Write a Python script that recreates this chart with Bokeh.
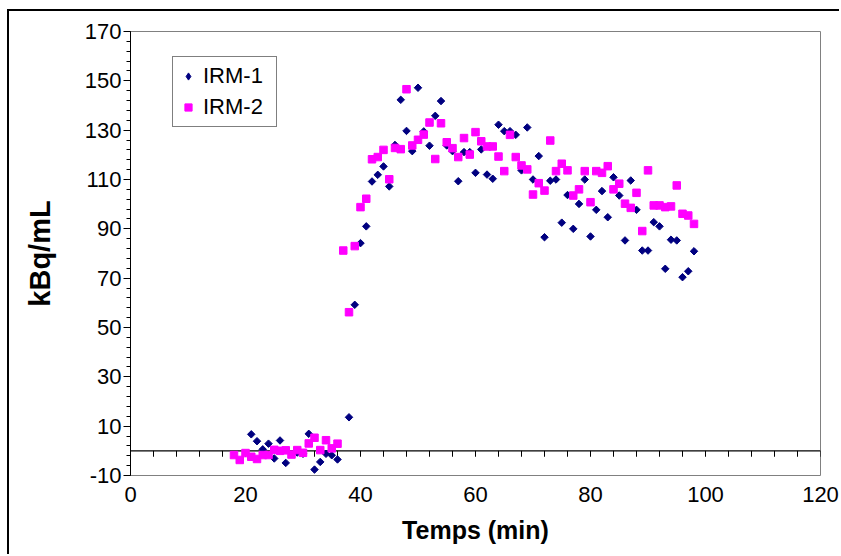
import numpy as np
from bokeh.plotting import figure
from bokeh.models import Range1d, FixedTicker, Span, Legend, LegendItem, PrintfTickFormatter
from bokeh.embed import file_html
from bokeh.resources import INLINE

# ---- data ----
irm1_t = [21, 22, 23, 24, 25, 26, 27, 29, 30, 31, 32, 33, 34, 35, 36,
          38, 39, 40, 41, 42, 43, 44, 45, 46, 47, 48, 49, 50, 51, 52, 53, 54,
          55, 56, 57, 58, 59, 60, 61, 62, 63, 64, 65, 66, 67, 68, 69, 70,
          71, 72, 73, 74, 75, 76, 77, 78, 79, 80, 81, 82, 83, 84, 85, 86,
          87, 88, 89, 90, 91, 92, 93, 94, 95, 96, 97, 98]
irm1_v = [6.7, 3.9, 0.6, 2.9, -3.1, 4.2, -4.9, -0.7, -1.2, 6.9, -7.6, -4.5, -1.2, -1.8, -3.5,
          13.6, 59.2, 84.2, 91.0, 109.2, 111.9, 115.3, 107.2, 124.0, 142.3, 129.7, 121.5, 147.2,
          129.5, 123.7, 135.8, 141.8,
          123.8, 121.5, 109.3, 121.1, 121.1, 112.7, 122.2, 112.0, 110.3, 132.2, 129.6, 129.6,
          128.1, 113.7, 131.1, 110.0,
          119.5, 86.6, 109.5, 110.0, 92.5, 103.7, 90.0, 100.1, 110.0, 86.9, 97.7, 105.3, 94.7,
          110.9, 103.5, 85.3,
          109.6, 97.7, 81.2, 81.2, 92.7, 91.0, 73.8, 85.6, 85.3, 70.4, 72.8, 80.9]

irm2_t = list(range(18, 99))
irm2_v = [-1.7, -3.7, -0.9, -2.4, -3.3, -1.7, -1.7, 0.4, 0.0, 0.2, -1.5, 0.3, -0.8, 3.0,
          5.3, 0.3, 4.3, 1.0, 2.9,
          81.2, 56.2, 83.0, 98.8, 102.2, 118.2, 119.1, 122.0, 110.1, 122.8, 122.3, 146.6,
          123.8, 126.1, 128.2, 133.1, 118.3, 132.8,
          125.1, 122.7, 119.1, 126.8, 120.1, 129.2, 125.5, 123.4, 123.4, 119.3, 113.4, 128.1,
          119.1, 115.7, 114.1, 103.9,
          108.5, 105.5, 125.8, 113.4, 116.4, 113.7, 103.5, 106.0, 113.4, 100.8, 113.4, 112.7,
          115.4, 106.0, 108.3, 100.2,
          98.5, 104.6, 89.1, 113.7, 99.5, 99.5, 98.8, 99.1, 107.6, 96.1, 95.4, 92.0]

series_names = ["IRM-1", "IRM-2"]
x_major = [0, 20, 40, 60, 80, 100, 120]
y_major = [-10, 10, 30, 50, 70, 90, 110, 130, 150, 170]
y_minor = list(np.arange(-10, 171, 4))
x_tickmarks = list(np.arange(0, 121, 4))

FONT = "Liberation Sans"

p = figure(width=832, height=545, output_backend="svg", toolbar_location=None,
           x_range=Range1d(0, 120), y_range=Range1d(-10, 170),
           min_border_left=121, min_border_right=21, min_border_top=20, min_border_bottom=81)
p.styles = {"border-left": "2px solid black", "border-top": "2px solid black",
            "margin-left": "7px", "margin-top": "9px"}

p.background_fill_color = "white"
p.border_fill_color = "white"
p.outline_line_color = "#808080"
p.outline_line_width = 1
p.xgrid.visible = False
p.ygrid.visible = False

# x axis: labels only at bottom
xa = p.xaxis[0]
xa.ticker = FixedTicker(ticks=x_major, minor_ticks=[])
xa.formatter = PrintfTickFormatter(format="%d")
xa.axis_line_color = None
xa.major_tick_line_color = None
xa.minor_tick_line_color = None
xa.major_tick_out = 0
xa.major_tick_in = 0
xa.major_label_standoff = 11
xa.major_label_text_font = FONT
xa.major_label_text_font_size = "22px"
xa.major_label_text_color = "black"
xa.axis_label = "Temps (min)"
xa.axis_label_text_font = FONT
xa.axis_label_text_font_style = "bold"
xa.axis_label_text_font_size = "25px"
xa.axis_label_text_color = "black"
xa.axis_label_standoff = 11

ya = p.yaxis[0]
ya.ticker = FixedTicker(ticks=y_major, minor_ticks=y_minor)
ya.formatter = PrintfTickFormatter(format="%d")
ya.axis_line_color = "black"
ya.major_tick_line_color = "black"
ya.minor_tick_line_color = "black"
ya.major_tick_out = 7
ya.major_tick_in = 0
ya.minor_tick_out = 4
ya.minor_tick_in = 0
ya.major_label_standoff = 2
ya.major_label_text_font = FONT
ya.major_label_text_font_size = "22px"
ya.major_label_text_color = "black"
ya.axis_label = "kBq/mL"
ya.axis_label_text_font = FONT
ya.axis_label_text_font_style = "bold"
ya.axis_label_text_font_size = "29px"
ya.axis_label_text_color = "black"
ya.axis_label_standoff = 26

# horizontal axis line crossing at y = 0, with tick marks pointing down
zero = Span(location=0, dimension="width", line_color="black", line_width=1.2, level="underlay")
p.add_layout(zero)
tick_len = 2.4
p.segment(x0=x_tickmarks, y0=[0] * len(x_tickmarks), x1=x_tickmarks,
          y1=[-tick_len] * len(x_tickmarks), line_color="black", line_width=1)

r1 = p.scatter(irm1_t, irm1_v, marker="square", angle=np.pi / 4, size=5.3,
               fill_color="#000080", line_color="#000080")
r2 = p.scatter(irm2_t, irm2_v, marker="square", size=7.5,
               fill_color="#FF00FF", line_color="#FF00FF")

# legend key for the diamond symbol (a placeholder point that is not drawn)
r1_key = p.scatter(x=[np.nan], y=[np.nan], marker="diamond", size=9,
                   fill_color="#000080", line_color="#000080")

legend = Legend(items=[LegendItem(label=series_names[0], renderers=[r1_key]),
                       LegendItem(label=series_names[1], renderers=[r2])],
                location=(42, 348))
legend.label_text_font = FONT
legend.label_text_font_size = "22px"
legend.label_text_color = "black"
legend.border_line_color = "black"
legend.border_line_width = 1
legend.background_fill_color = "white"
legend.background_fill_alpha = 1
legend.padding = 6
legend.spacing = 5
legend.glyph_width = 18
legend.glyph_height = 22
legend.label_height = 22
legend.label_standoff = 6
legend.label_width = 67
legend.margin = 0
p.add_layout(legend)

open("out.html", "w").write(file_html(p, INLINE))
